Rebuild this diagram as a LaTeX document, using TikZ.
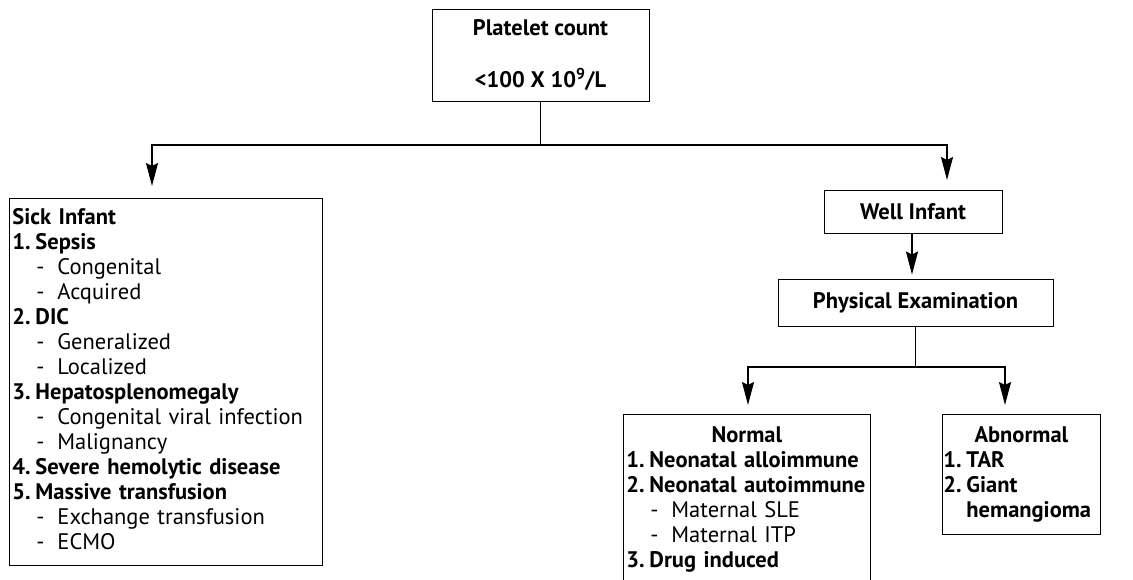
\documentclass[tikz,border=0pt]{standalone}
\usepackage{fontspec}
\setmainfont{PT Sans}
\usetikzlibrary{arrows.meta,positioning}

% numbered entry and dashed sub-entry of a list box
\newcommand{\itm}[2]{\makebox[23pt][l]{\textbf{#1}}\textbf{#2}}
\newcommand{\subitm}[1]{\hspace*{24pt}\makebox[21pt][l]{-}#1}

\begin{document}
\begin{tikzpicture}[
    x=1pt, y=-1pt,
    font=\fontsize{22.5}{25}\selectfont,
    box/.style={rectangle, draw, line width=0.9pt, align=center, inner sep=2pt},
    listbox/.style={rectangle, draw, line width=0.9pt, align=left, anchor=north west, inner xsep=3pt},
    line/.style={line width=1.8pt},
    arrow/.style={line, -{Stealth[length=23pt, width=12pt, inset=3pt]}}
]
    \useasboundingbox (0,0) rectangle (1133,579);

    % top of the tree
    \node[box, minimum width=217pt, minimum height=92pt] (count) at (540.5,55)
        {\textbf{Platelet count}\\[27pt]\textbf{<100 X 10\textsuperscript{9}/L}};

    % sick infant
    \node[listbox, text width=307pt, inner ysep=10pt] (sick) at (9,198) {%
        \textbf{Sick Infant}\\
        \itm{1.}{Sepsis}\\
        \subitm{Congenital}\\
        \subitm{Acquired}\\
        \itm{2.}{DIC}\\
        \subitm{Generalized}\\
        \subitm{Localized}\\
        \itm{3.}{Hepatosplenomegaly}\\
        \subitm{Congenital viral infection}\\
        \subitm{Malignancy}\\
        \itm{4.}{Severe hemolytic disease}\\
        \itm{5.}{Massive transfusion}\\
        \subitm{Exchange transfusion}\\
        \subitm{ECMO}\rule[-6pt]{0pt}{1pt}};

    % well infant
    \node[box, minimum width=178pt, minimum height=43pt] (well) at (913,211.5) {\textbf{Well Infant}};
    \node[box, minimum width=275pt, minimum height=47pt] (exam) at (915.5,302.5) {\textbf{Physical Examination}};

    \node[listbox, text width=241pt, inner ysep=12pt] (normal) at (623,414) {%
        \makebox[\hsize]{\textbf{Normal}}\\
        \itm{1.}{Neonatal alloimmune}\\
        \itm{2.}{Neonatal autoimmune}\\
        \subitm{Maternal SLE}\\
        \subitm{Maternal ITP}\\
        \itm{3.}{Drug induced}\rule[-30pt]{0pt}{1pt}};

    \node[listbox, text width=156pt, inner xsep=1pt, inner ysep=12pt] (abnormal) at (942,414) {%
        \makebox[\hsize]{\textbf{Abnormal}}\\
        \itm{1.}{TAR}\\
        \itm{2.}{Giant}\\
        \hspace*{23pt}\textbf{hemangioma}};

    % connector ends
    \coordinate (sickin) at (152,186);
    \coordinate (wellin) at (947,180);
    \coordinate (normalin) at (748,405);
    \coordinate (abnormalin) at (1005,405);

    \coordinate (split) at (count.south |- 0,145);
    \draw[line] (count.south) -- (split);
    \draw[arrow] (split) -| (sickin);
    \draw[arrow] (split) -| (wellin);

    \draw[arrow, shorten >=4pt] (well.south -| 912,0) -- (exam.north -| 912,0);

    \coordinate (split2) at (exam.south |- 0,367);
    \draw[line] (exam.south) -- (split2);
    \draw[arrow] (split2) -| (normalin);
    \draw[arrow] (split2) -| (abnormalin);
\end{tikzpicture}
\end{document}
